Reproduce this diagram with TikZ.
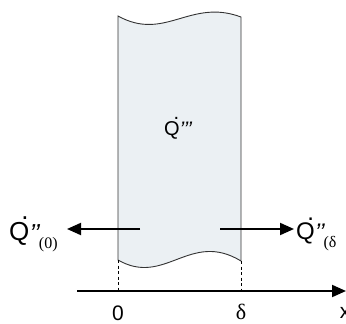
\documentclass[tikz,border=0pt]{standalone}
\usepackage{fontspec}
\setmainfont{Liberation Sans}
\newfontfamily\seriff{Liberation Serif}
\usetikzlibrary{arrows.meta}
\definecolor{slabfill}{RGB}{235,240,243}
\tikzset{
  slab/.style={draw=black!80, line width=0.9pt, fill=slabfill},
  flow/.style={line width=2pt, -{Triangle[length=14pt,width=12pt]}},
  guide/.style={dashed, line width=0.7pt, dash pattern=on 3pt off 2.5pt},
  lbl/.style={inner sep=0pt, font=\fontsize{21}{21}\selectfont},
}
\newcommand{\Qd}[1]{{\fontsize{#1}{#1}\selectfont Q\kern-0.5em\raisebox{0.78em}{\kern0.19em.}\kern0.03em}}
\newcommand{\Prm}[2]{{\fontsize{#1}{#1}\selectfont\itshape\raisebox{-0.08em}{#2}}}
\newcommand{\Sub}[1]{\raisebox{-8pt}{\seriff\fontsize{16}{16}\selectfont #1}}
\begin{document}
\begin{tikzpicture}[x=1pt,y=-1pt]
\useasboundingbox (0,0) rectangle (346,324);
\coordinate (tl) at (118,16);
\coordinate (tr) at (241,17);
\coordinate (br) at (241,261);
\coordinate (bl) at (118,260);
\draw[slab] (tl) .. controls (165,42) and (190,-2) .. (tr) -- (br)
  .. controls (190,230) and (165,287) .. (bl) -- cycle;
\coordinate (a0) at (118,291);
\coordinate (ad) at (241,291);
\coordinate (axs) at (77,291);
\coordinate (axe) at (346,291);
\draw[guide] (bl) -- (a0);
\draw[guide] (br) -- (ad);
\draw[flow] (axs) -- (axe);
\coordinate (ls) at (140,229);
\coordinate (le) at (67,229);
\coordinate (rs) at (220,229);
\coordinate (re) at (294,229);
\draw[flow] (ls) -- (le);
\draw[flow] (rs) -- (re);
\node[lbl] (n0) at (118,313) {0};
\node[lbl, font=\seriff\fontsize{22}{22}\selectfont] (nd) at (241,312) {δ};
\node[lbl] (nx) at (345,313) {x};
\node[inner sep=0pt, anchor=base west] (qm) at (164,135) {\Qd{20}\Prm{21}{\symbol{39}\symbol{39}\symbol{39}}};
\node[inner sep=0pt, anchor=base west] (ql) at (9,240) {\Qd{26}\Prm{26}{\symbol{39}\symbol{39}}\kern-1pt\Sub{(0)}};
\node[inner sep=0pt, anchor=base west] (qr) at (296,239) {\Qd{24}\Prm{24}{\symbol{39}\symbol{39}}\kern-1pt\Sub{(δ}};
\end{tikzpicture}
\end{document}
